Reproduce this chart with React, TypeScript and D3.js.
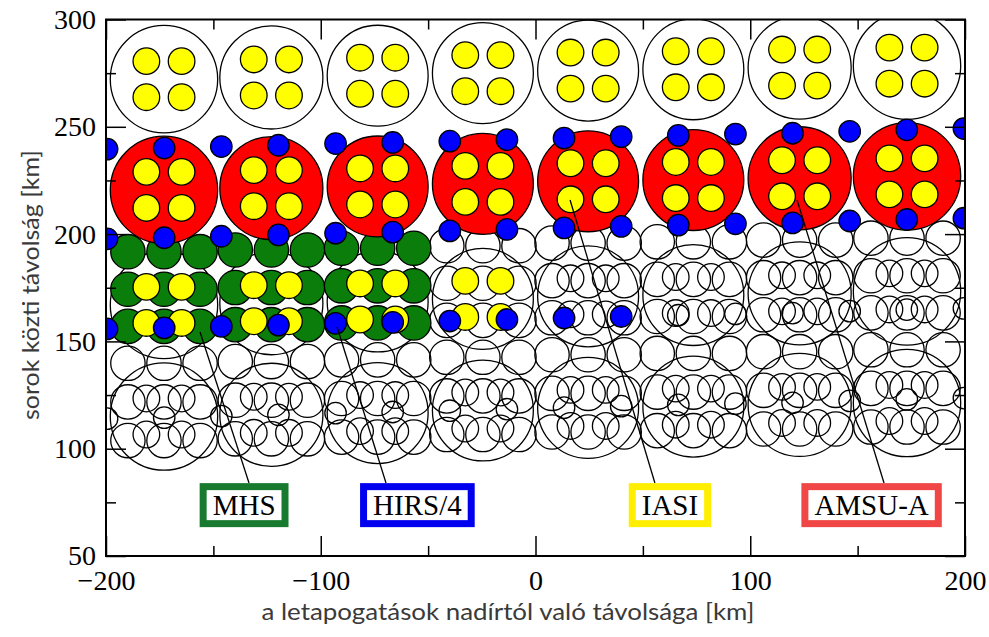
import { useEffect, useRef } from 'react';
import * as d3 from 'd3';

// AMSU-A footprint columns (km from nadir) and radii
const amsuX = [-173, -123, -73.5, -24.5, 24.5, 73.5, 123, 173];
const amsuR = [25, 24, 23.5, 23.5, 23.5, 23.5, 24, 25];
// along-track drift of each column (km)
const colShift = [0, 0.8, 1.6, 2.8, 4.0, 4.6, 5.4, 6.3];
// AMSU-A / IASI scan line centres at the first column
const scanLineY = [272.2, 220.6, 167, 115];

// IASI: 2x2 pixels inside each AMSU-A footprint
const iasiDx = [-8.2, 8.2];
const iasiDy = [8.4, -8.4];
const iasiR = 6.2;

// MHS: 3 pixels per AMSU-A column, 6 scan lines
const mhsDx = [-16.8, 0, 16.8];
const mhsRowY = [191.8, 174.3, 157, 139.8, 121.8, 103.8];
const mhsR = 8;

// HIRS/4 footprints
const hirsX = [-199.5, -172.9, -146.3, -119.7, -93.1, -66.5, -39.9, -13.3, 13.3, 39.9, 66.5, 93.1, 119.7, 146.3, 172.9, 199.5];
const hirsShift = [0, 0.5, 1.2, 1.8, 2.6, 3.1, 3.7, 4.4, 5.1, 5.8, 6.4, 7.0, 7.4, 8.3, 9.0, 9.6];
const hirsRowY = [239.6, 197.8, 155.8, 114];
const hirsR = 5;

// which footprints are coloured
const greenRows = [0, 1, 2];
const greenCols = [0, 1, 2];
const redLine = 1;
const yellowLines = [0, 1];
const yellowLine3Cols = [0, 1, 2, 3];
const blueRows = [0, 1];
const blueRow3Count = 10;

// labels with leader lines
const labelNames = ['MHS', 'HIRS/4', 'IASI', 'AMSU-A'];
const labelColors = ['#187a2f', '#0000ee', '#ffee00', '#f04646'];
const labelX = [-135.7, -55, 62.6, 156.5];
const labelY = [73.7, 73.7, 73.7, 73.7];
const leaderFrom: [number, number][] = [[-156.2, 154.4], [-92.4, 156.7], [16.1, 215.9], [121.8, 215.9]];
const leaderTo: [number, number][] = [[-133.4, 84], [-69.6, 84], [55.6, 84], [162.3, 84]];

const xMajor = [-200, -100, 0, 100, 200];
const xMinor = [-150, -50, 50, 150];
const yMajor = [50, 100, 150, 200, 250, 300];
const yMinor = [75, 125, 175, 225, 275];

export default function App() {
  const svgRef = useRef<SVGSVGElement>(null);

  useEffect(() => {
    if (!svgRef.current) return;
    document.body.style.margin = '0';
    const svg = d3.select(svgRef.current);
    svg.selectAll('*').remove();

    const x = d3.scaleLinear().domain([-200, 200]).range([106, 965]);
    const y = d3.scaleLinear().domain([50, 300]).range([556, 19.5]);
    const k = x(1) - x(0);

    svg.append('rect').attr('width', 989).attr('height', 637).attr('fill', '#fff');

    svg.append('defs').append('clipPath').attr('id', 'plot-clip')
      .append('rect')
      .attr('x', x(-200)).attr('y', y(300))
      .attr('width', x(200) - x(-200)).attr('height', y(50) - y(300));

    const plot = svg.append('g').attr('clip-path', 'url(#plot-clip)');

    const dot = (cx: number, cy: number, r: number, fill: string) => {
      plot.append('circle')
        .attr('cx', x(cx))
        .attr('cy', y(cy))
        .attr('r', r * k)
        .attr('fill', fill)
        .attr('stroke', '#000')
        .attr('stroke-width', 1.3);
    };

    // outlines of the lower scan lines
    [2, 3].forEach(l => amsuX.forEach((ax, c) => dot(ax, scanLineY[l] + colShift[c], amsuR[c], 'none')));
    mhsRowY.forEach((my, r) => amsuX.forEach((ax, c) => {
      if (greenRows.includes(r) && greenCols.includes(c)) return;
      mhsDx.forEach(dx => dot(ax + dx, my + colShift[c], mhsR, 'none'));
    }));
    amsuX.forEach((ax, c) => {
      if (!yellowLine3Cols.includes(c)) {
        iasiDy.forEach(dy => iasiDx.forEach(dx => dot(ax + dx, scanLineY[2] + colShift[c] + dy, iasiR, 'none')));
      }
      iasiDy.forEach(dy => iasiDx.forEach(dx => dot(ax + dx, scanLineY[3] + colShift[c] + dy, iasiR, 'none')));
    });
    hirsX.forEach((hx, i) => {
      if (i >= blueRow3Count) dot(hx, hirsRowY[2] + hirsShift[i], hirsR, 'none');
      dot(hx, hirsRowY[3] + hirsShift[i], hirsR, 'none');
    });

    // top scan line: empty AMSU-A footprints
    amsuX.forEach((ax, c) => dot(ax, scanLineY[0] + colShift[c], amsuR[c], '#fff'));

    // MHS (green)
    greenRows.forEach(r => greenCols.forEach(c => {
      mhsDx.forEach(dx => dot(amsuX[c] + dx, mhsRowY[r] + colShift[c], mhsR, '#0a7d0a'));
    }));

    // AMSU-A (red)
    amsuX.forEach((ax, c) => dot(ax, scanLineY[redLine] + colShift[c], amsuR[c], '#ff0000'));

    // IASI (yellow)
    yellowLines.forEach(l => amsuX.forEach((ax, c) => {
      iasiDy.forEach(dy => iasiDx.forEach(dx => dot(ax + dx, scanLineY[l] + colShift[c] + dy, iasiR, '#ffff00')));
    }));
    yellowLine3Cols.forEach(c => {
      iasiDy.forEach(dy => iasiDx.forEach(dx => dot(amsuX[c] + dx, scanLineY[2] + colShift[c] + dy, iasiR, '#ffff00')));
    });

    // HIRS/4 (blue)
    blueRows.forEach(r => hirsX.forEach((hx, i) => dot(hx, hirsRowY[r] + hirsShift[i], hirsR, '#0000ff')));
    hirsX.slice(0, blueRow3Count).forEach((hx, i) => dot(hx, hirsRowY[2] + hirsShift[i], hirsR, '#0000ff'));

    // leader lines
    leaderFrom.forEach((p, i) => {
      svg.append('line')
        .attr('x1', x(p[0])).attr('y1', y(p[1]))
        .attr('x2', x(leaderTo[i][0])).attr('y2', y(leaderTo[i][1]))
        .attr('stroke', '#000')
        .attr('stroke-width', 1.3);
    });

    // label boxes
    labelNames.forEach((name, i) => {
      const g = svg.append('g').attr('transform', `translate(${x(labelX[i])}, ${y(labelY[i])})`);
      const t = g.append('text')
        .attr('text-anchor', 'middle')
        .attr('dy', '0.35em')
        .attr('font-family', '"Liberation Serif", serif')
        .attr('font-size', 29)
        .attr('fill', '#000')
        .text(name);
      const w = (t.node() as SVGTextElement).getComputedTextLength() + 19;
      g.insert('rect', 'text')
        .attr('x', -w / 2).attr('y', -18.5)
        .attr('width', w).attr('height', 37)
        .attr('fill', '#fff')
        .attr('stroke', labelColors[i])
        .attr('stroke-width', 7);
    });

    // axes
    const styleAxis = (g: d3.Selection<SVGGElement, unknown, null, undefined>) => {
      g.select('.domain').remove();
      g.selectAll('line').attr('stroke', '#000').attr('stroke-width', 1.5);
      g.selectAll('text')
        .attr('font-family', '"Liberation Serif", serif')
        .attr('font-size', 28)
        .attr('fill', '#000');
    };
    const blank = () => '';

    svg.append('g').attr('transform', `translate(0, ${y(50)})`)
      .call(d3.axisBottom(x).tickValues(xMajor).tickSizeInner(-20).tickSizeOuter(0).tickPadding(14))
      .call(styleAxis);
    svg.append('g').attr('transform', `translate(0, ${y(50)})`)
      .call(d3.axisBottom(x).tickValues(xMinor).tickSizeInner(-10).tickSizeOuter(0).tickFormat(blank))
      .call(styleAxis);
    svg.append('g').attr('transform', `translate(0, ${y(300)})`)
      .call(d3.axisTop(x).tickValues(xMajor).tickSizeInner(-20).tickSizeOuter(0).tickFormat(blank))
      .call(styleAxis);
    svg.append('g').attr('transform', `translate(0, ${y(300)})`)
      .call(d3.axisTop(x).tickValues(xMinor).tickSizeInner(-10).tickSizeOuter(0).tickFormat(blank))
      .call(styleAxis);
    svg.append('g').attr('transform', `translate(${x(-200)}, 0)`)
      .call(d3.axisLeft(y).tickValues(yMajor).tickSizeInner(-20).tickSizeOuter(0).tickPadding(10))
      .call(styleAxis);
    svg.append('g').attr('transform', `translate(${x(-200)}, 0)`)
      .call(d3.axisLeft(y).tickValues(yMinor).tickSizeInner(-10).tickSizeOuter(0).tickFormat(blank))
      .call(styleAxis);
    svg.append('g').attr('transform', `translate(${x(200)}, 0)`)
      .call(d3.axisRight(y).tickValues(yMajor).tickSizeInner(-20).tickSizeOuter(0).tickFormat(blank))
      .call(styleAxis);
    svg.append('g').attr('transform', `translate(${x(200)}, 0)`)
      .call(d3.axisRight(y).tickValues(yMinor).tickSizeInner(-10).tickSizeOuter(0).tickFormat(blank))
      .call(styleAxis);

    // frame
    svg.append('rect')
      .attr('x', x(-200)).attr('y', y(300))
      .attr('width', x(200) - x(-200)).attr('height', y(50) - y(300))
      .attr('fill', 'none')
      .attr('stroke', '#000')
      .attr('stroke-width', 2);

    // axis titles
    svg.append('text')
      .attr('x', 508).attr('y', 620)
      .attr('text-anchor', 'middle')
      .attr('font-family', 'Lato, "Open Sans", sans-serif')
      .attr('font-size', 24)
      .attr('fill', '#3a3a3a')
      .attr('textLength', 493)
      .attr('lengthAdjust', 'spacingAndGlyphs')
      .text('a letapogatások nadírtól való távolsága [km]');

    svg.append('text')
      .attr('transform', 'translate(39, 285) rotate(-90)')
      .attr('text-anchor', 'middle')
      .attr('font-family', 'Lato, "Open Sans", sans-serif')
      .attr('font-size', 24)
      .attr('fill', '#3a3a3a')
      .attr('textLength', 270)
      .attr('lengthAdjust', 'spacingAndGlyphs')
      .text('sorok közti távolság [km]');
  }, []);

  return <svg ref={svgRef} width={989} height={637} style={{ display: 'block' }} />;
}
